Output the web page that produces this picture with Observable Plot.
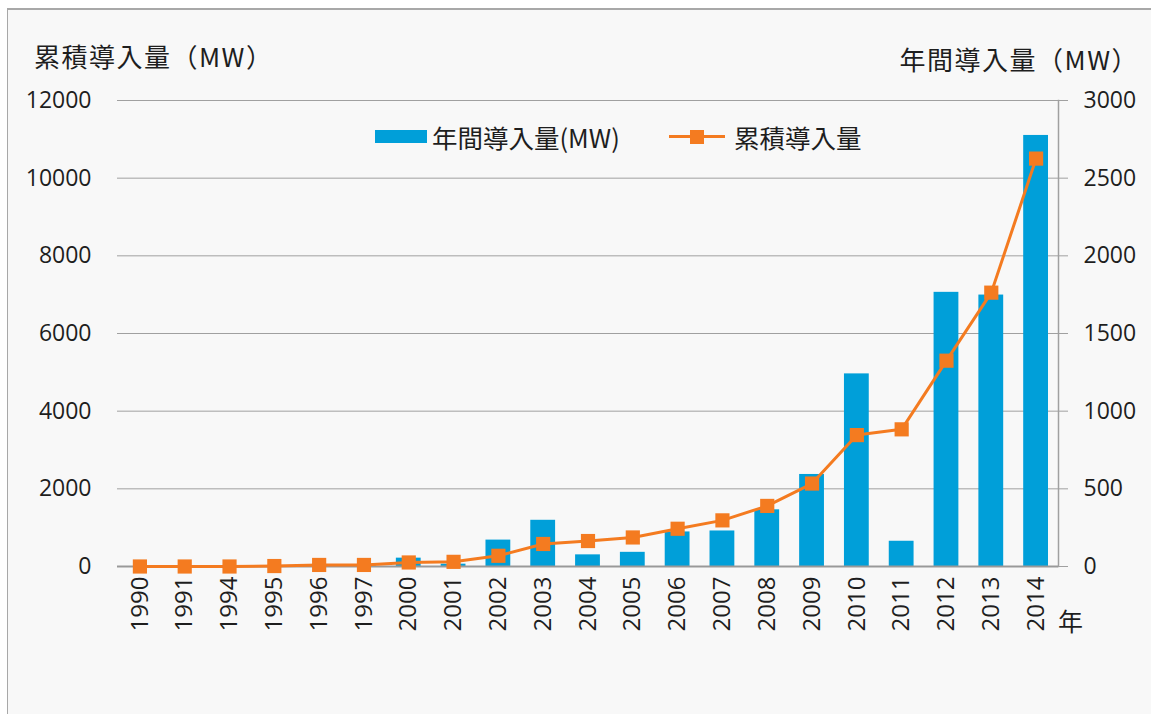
<!DOCTYPE html>
<html>
<head>
<meta charset="utf-8">
<script src="https://cdn.jsdelivr.net/npm/d3@7"></script>
<script src="https://cdn.jsdelivr.net/npm/@observablehq/plot@0.6"></script>
<style>
  html, body { margin: 0; padding: 0; background: #fff; }
  #wrap { position: relative; width: 1151px; height: 714px; overflow: hidden; font-family: "Open Sans", "Noto Sans CJK JP", sans-serif; color: #1e1e1e; }
  #frame { position: absolute; left: 7px; top: 8px; right: 0; bottom: 0; background: #f8f8f8; border-left: 1px solid #a8a8a8; border-top: 2px solid #a8a8a8; }
  #chart { position: absolute; left: 0; top: 0; }
  .t { position: absolute; white-space: nowrap; font-family: "Noto Sans CJK JP", "Open Sans", sans-serif; line-height: 1; }
</style>
</head>
<body>
<div id="wrap">
  <div id="frame"></div>
  <div id="chart"></div>
  <div class="t" style="left:34px; top:43px; font-size:26px; letter-spacing:1.5px;">累積導入量（MW）</div>
  <div class="t" style="right:12px; top:46px; font-size:26px; letter-spacing:1.5px;">年間導入量（MW）</div>
  <div class="t" style="left:1058px; top:608px; font-size:25px;">年</div>
  <div style="position:absolute; left:375px; top:130px; width:52px; height:13px; background:#009fd9;"></div>
  <div class="t" style="left:432px; top:124px; font-size:25.5px;">年間導入量(MW)</div>
  <div style="position:absolute; left:669px; top:135px; width:56px; height:3px; background:#f47b20;"></div>
  <div style="position:absolute; left:690px; top:130px; width:14px; height:14px; background:#f47b20;"></div>
  <div class="t" style="left:734px; top:124px; font-size:25.5px;">累積導入量</div>
</div>
<script>
const categories = ["1990","1991","1994","1995","1996","1997","2000","2001","2002","2003","2004","2005","2006","2007","2008","2009","2010","2011","2012","2013","2014"];
// bars, read on the left axis (MW)
const barValues = [0,0,0,0,15,15,215,60,680,1190,300,365,890,915,1460,2370,4960,650,7060,6990,11100];
// line, read on the right axis (MW)
const lineValues = [0,0,0,3,10,10,26,30,69,145,164,187,243,297,390,534,846,883,1325,1763,2626];
const leftTicks = [0,2000,4000,6000,8000,10000,12000];
const rightTicks = [0,500,1000,1500,2000,2500,3000];
const ratio = 12000 / 3000;

const bars = categories.map((c, i) => ({year: c, value: barValues[i]}));
const line = categories.map((c, i) => ({year: c, value: lineValues[i] * ratio}));

const chart = Plot.plot({
  width: 1151,
  height: 714,
  marginLeft: 117,
  marginRight: 93,
  marginTop: 100,
  marginBottom: 148,
  style: {background: "transparent", fontFamily: "'Open Sans', 'Noto Sans CJK JP', sans-serif", fontSize: "23px", color: "#1e1e1e"},
  x: {type: "band", domain: categories, padding: 0, round: false},
  y: {domain: [0, 12000]},
  marks: [
    Plot.gridY(leftTicks, {stroke: "#a0a0a0", strokeOpacity: 1, strokeWidth: 1}),
    Plot.axisY(leftTicks, {anchor: "left", tickSize: 0, tickPadding: 26, label: null, fontSize: 23, tickFormat: d => String(d)}),
    Plot.axisY(rightTicks.map(d => d * ratio), {anchor: "right", tickSize: 9, tickPadding: 16, label: null, stroke: "#a0a0a0", fontSize: 23, tickFormat: d => String(d / ratio)}),
    Plot.frame({anchor: "right", stroke: "#a0a0a0", strokeWidth: 1.5}),
    Plot.axisX({anchor: "bottom", tickSize: 0, tickPadding: 10, tickRotate: -90, label: null, fontSize: 24}),
    Plot.barY(bars, {x: "year", y: "value", fill: "#009fd9", insetLeft: 10, insetRight: 10}),
    Plot.ruleY([0], {stroke: "#999", strokeWidth: 2}),
    Plot.line(line, {x: "year", y: "value", stroke: "#f47b20", strokeWidth: 3}),
    Plot.dot(line, {x: "year", y: "value", symbol: "square", r: 8, fill: "#f47b20", stroke: "none"})
  ]
});
document.getElementById("chart").appendChild(chart);
</script>
</body>
</html>
